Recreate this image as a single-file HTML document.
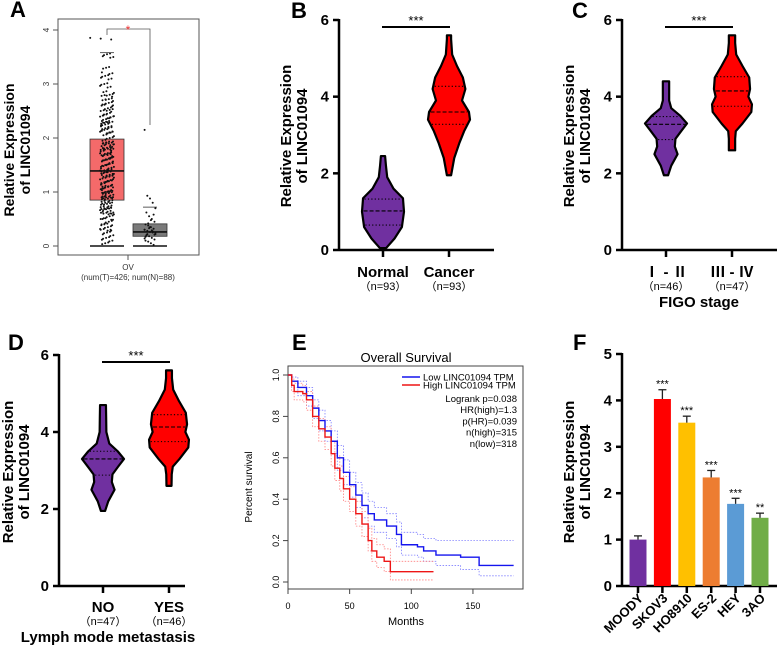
<!DOCTYPE html>
<html><head><meta charset="utf-8">
<style>
html,body{margin:0;padding:0;background:#fff;}
svg{display:block;font-family:"Liberation Sans","Noto Sans CJK SC",sans-serif;}
</style></head>
<body>
<svg id="fig" width="778" height="647" viewBox="0 0 778 647" xmlns="http://www.w3.org/2000/svg"></svg>
<script>
// ---------- DATA ----------
// Panel A (box + jitter)
const aGroups = ["Tumor","Normal"];
const aQ1 = [0.85, 0.18];
const aMed = [1.39, 0.26];
const aQ3 = [1.98, 0.41];
const aWhiskHi = [3.58, 0.72];
const aPointsT = [3.84,3.55,3.5,3.3,3.2,3.15,3.1,3.0,2.95,2.85,2.8,2.7,2.65,2.6,2.55,2.5,2.45,2.4,2.35,2.3,2.25,2.2,2.15,2.1,2.05,2.0,1.95,1.9,1.85,1.8,1.75,1.7,1.65,1.6,1.55,1.5,1.45,1.4,1.38,1.35,1.3,1.25,1.2,1.15,1.1,1.05,1.0,0.95,0.9,0.85,0.8,0.75,0.7,0.65,0.6,0.55,0.5,0.45,0.4,0.35,0.3,0.25,0.2,0.15,0.1,0.05,1.42,1.36,1.7,1.9,2.1,1.1,1.2,0.9,0.7,0.5,1.6,1.8,2.3,1.3,1.0,0.6,0.4,0.3,1.48,1.52,1.58,1.62,1.68,1.72,1.78,1.82,1.88,1.92,1.02,1.08,1.12,1.18,1.22,1.28,1.32,0.92,0.98,0.82,0.88,0.72,0.78,0.62,0.68,2.12,2.18,2.22,2.28,2.38,2.42,2.52,2.62,2.72,2.78];
const aPointsN = [2.15,0.93,0.88,0.8,0.7,0.62,0.55,0.5,0.45,0.4,0.38,0.35,0.32,0.3,0.28,0.26,0.25,0.22,0.2,0.18,0.15,0.12,0.1,0.08,0.05,0.02,0.3,0.22,0.35,0.27,0.24,0.19,0.33,0.29,0.21,0.17,0.42,0.48,0.58,0.14];
const aTicks = [0,1,2,3,4];

// Violins: [value, halfwidth-fraction]
const vNormal = [[0.05,0.15],[0.3,0.55],[0.6,0.9],[1.0,1.0],[1.35,0.95],[1.6,0.5],[1.9,0.2],[2.2,0.14],[2.45,0.1]];
const vCancer = [[1.95,0.1],[2.4,0.25],[2.8,0.5],[3.1,0.72],[3.4,1.0],[3.6,0.95],[3.9,0.62],[4.2,0.78],[4.5,0.66],[4.8,0.38],[5.1,0.15],[5.5,0.1],[5.6,0.1]];
const qNormal = [0.65,1.02,1.33];
const qCancer = [3.28,3.6,4.27];
const vStage12 = [[1.95,0.1],[2.2,0.25],[2.5,0.55],[2.7,0.42],[2.9,0.45],[3.1,0.72],[3.3,1.0],[3.5,0.68],[3.7,0.25],[3.9,0.15],[4.1,0.15],[4.4,0.15]];
const vStage34 = [[2.6,0.15],[2.9,0.15],[3.1,0.18],[3.3,0.5],[3.6,0.92],[3.8,0.95],[4.0,0.78],[4.2,0.86],[4.5,0.82],[4.8,0.5],[5.1,0.2],[5.4,0.15],[5.6,0.15]];
const qStage12 = [2.88,3.28,3.48];
const qStage34 = [3.75,4.15,4.52];
const vNo = [[1.95,0.1],[2.2,0.25],[2.5,0.55],[2.7,0.42],[2.9,0.45],[3.1,0.72],[3.3,1.0],[3.5,0.7],[3.7,0.3],[4.0,0.16],[4.4,0.15],[4.7,0.14]];
const vYes = [[2.6,0.12],[2.9,0.13],[3.1,0.18],[3.3,0.5],[3.6,0.92],[3.8,0.95],[4.0,0.78],[4.2,0.86],[4.5,0.8],[4.8,0.48],[5.1,0.2],[5.4,0.14],[5.6,0.14]];
const qNo = [2.88,3.3,3.5];
const qYes = [3.75,4.13,4.45];
const vTicks = [0,2,4,6];

// Panel E survival
const survLowT = [0,3,8,15,20,25,30,35,40,45,50,55,60,65,70,80,88,92,105,110,120,140,155,183];
const survLowS = [1,0.97,0.94,0.9,0.84,0.78,0.73,0.68,0.6,0.53,0.47,0.42,0.37,0.33,0.3,0.27,0.23,0.18,0.17,0.15,0.13,0.12,0.08,0.08];
const survHighT = [0,3,5,12,15,20,25,30,35,38,42,45,50,55,60,65,68,72,78,83,118];
const survHighS = [1,0.95,0.92,0.91,0.88,0.8,0.74,0.7,0.62,0.55,0.5,0.45,0.4,0.33,0.28,0.2,0.15,0.12,0.1,0.05,0.05];
const ciLowUpS = [1,0.99,0.97,0.94,0.88,0.83,0.78,0.73,0.66,0.59,0.53,0.48,0.43,0.39,0.36,0.33,0.29,0.24,0.23,0.21,0.2,0.2,0.2,0.2];
const ciLowDnS = [1,0.94,0.9,0.85,0.79,0.73,0.68,0.62,0.54,0.47,0.41,0.36,0.31,0.27,0.24,0.21,0.17,0.13,0.12,0.1,0.08,0.06,0.03,0.03];
const ciHighUpS = [1,0.98,0.96,0.95,0.92,0.85,0.79,0.75,0.68,0.61,0.56,0.51,0.46,0.39,0.34,0.26,0.21,0.18,0.16,0.1,0.1];
const ciHighDnS = [1,0.92,0.88,0.87,0.83,0.75,0.68,0.64,0.56,0.49,0.44,0.39,0.34,0.27,0.22,0.15,0.1,0.07,0.05,0.01,0.01];
const eXTicks = [0,50,100,150];
const eYTicks = [0,0.2,0.4,0.6,0.8,1.0];
const eLegend = ["Low LINC01094 TPM","High LINC01094 TPM"];
const eStats = ["Logrank p=0.038","HR(high)=1.3","p(HR)=0.039","n(high)=315","n(low)=318"];

// Panel F bars
const fCats = ["MOODY","SKOV3","HO8910","ES-2","HEY","3AO"];
const fVals = [1.0,4.03,3.52,2.34,1.77,1.47];
const fErr = [0.08,0.2,0.14,0.15,0.12,0.1];
const fSig = ["","***","***","***","***","**"];
const fTicks = [0,1,2,3,4,5];

// ---------- DRAW ----------
const svg = document.getElementById('fig');
const NS = 'http://www.w3.org/2000/svg';
function el(tag, attrs, parent, text){
  const e = document.createElementNS(NS, tag);
  for (const k in attrs) e.setAttribute(k, attrs[k]);
  if (text !== undefined) e.textContent = text;
  (parent || svg).appendChild(e);
  return e;
}
function grp(name){
  const g = el('g', {});
  
  
  return g;
}
function letter(g, t, x, y){
  const e = el('text', {x:x, y:y, 'font-size':22, 'font-weight':'bold'}, g, t);
  
  
}
function ytitle(g, x1, x2, yc, size, bold){
  const t1 = el('text', {x:0,y:0,'font-size':size,'font-weight':bold?'bold':'normal','text-anchor':'middle',transform:`translate(${x1},${yc}) rotate(-90)`}, g, 'Relative Expression');
  
  
  const t2 = el('text', {x:0,y:0,'font-size':size,'font-weight':bold?'bold':'normal','text-anchor':'middle',transform:`translate(${x2},${yc}) rotate(-90)`}, g, 'of LINC01094');
  
  
}

// ----- Panel A -----
(function(){
  const g = grp('panel-a');
  letter(g, 'A', 10, 17);
  const y = v => 246 - v * 54;
  const cx = [107, 150], hw = 17;
  el('rect', {x:58, y:19, width:141, height:236, fill:'none', stroke:'#555', 'stroke-width':1}, g);
  aTicks.forEach(t => {
    el('line', {x1:53, x2:58, y1:y(t), y2:y(t), stroke:'#555'}, g);
    el('text', {x:0, y:0, 'font-size':8, fill:'#333', 'text-anchor':'middle', transform:`translate(49,${y(t)}) rotate(-90)`}, g, t);
  });
  el('line', {x1:128, x2:128, y1:255, y2:260, stroke:'#555'}, g);
  el('text', {x:128, y:270, 'font-size':8, fill:'#333', 'text-anchor':'middle'}, g, 'OV');
  el('text', {x:128, y:280, 'font-size':8, fill:'#333', 'text-anchor':'middle'}, g, '(num(T)=426; num(N)=88)');
  const fills = ['#f46a6a','#7a7a7a'];
  aGroups.forEach((name, i) => {
    const b = el('rect', {x:cx[i]-hw, y:y(aQ3[i]), width:2*hw, height:y(aQ1[i])-y(aQ3[i]), fill:fills[i], stroke:'#333', 'stroke-width':0.8}, g);
    
    
  });
  // jitter offsets per copy (positions only)
  const copies = [-1, 0, 1];
  aPointsT.forEach((v, k) => {
    copies.forEach(c => {
      const off = (((k * 37 + c * 11) % 15) - 7) * 0.9 + c * 0.6;
      const p = el('circle', {cx:cx[0]+off, cy:y(v) + c * 0.8, r:1, fill:'#111'}, g);
      
      
    });
  });
  aPointsN.forEach((v, k) => {
    const off = ((k * 29) % 13) - 6;
    const p = el('circle', {cx:cx[1]+off*0.9, cy:y(v), r:1, fill:'#111'}, g);
    
    
  });
  aGroups.forEach((name, i) => {
    el('line', {x1:cx[i]-hw, x2:cx[i]+hw, y1:y(aMed[i]), y2:y(aMed[i]), stroke:'#111', 'stroke-width':1.6}, g);
    el('line', {x1:cx[i]-hw, x2:cx[i]+hw, y1:y(0), y2:y(0), stroke:'#111', 'stroke-width':1.6}, g);
    el('line', {x1:cx[i]-7, x2:cx[i]+7, y1:y(aWhiskHi[i]), y2:y(aWhiskHi[i]), stroke:'#333', 'stroke-width':0.8}, g);
  });
  el('path', {d:`M107 35 V29 H150 V125`, fill:'none', stroke:'#555', 'stroke-width':0.8}, g);
  el('text', {x:128, y:34, 'font-size':12, fill:'#e33', 'text-anchor':'middle'}, g, '*');
  ytitle(g, 14, 30, 150, 14, true);
})();

// ----- Violin panels -----
function violinPanel(opts){
  const g = grp(opts.name);
  letter(g, opts.letter, opts.lx, opts.ly);
  const y = v => opts.y0 - v * (opts.y0 - opts.y6) / 6;
  el('line', {x1:opts.ax, x2:opts.ax, y1:opts.y6-1, y2:opts.y0, stroke:'#000','stroke-width':2.5}, g);
  el('line', {x1:opts.ax, x2:opts.axEnd, y1:opts.y0, y2:opts.y0, stroke:'#000','stroke-width':2.5}, g);
  vTicks.forEach(t => {
    el('line', {x1:opts.ax-6, x2:opts.ax, y1:y(t), y2:y(t), stroke:'#000','stroke-width':2.5}, g);
    el('text', {x:opts.ax-10, y:y(t)+5, 'font-size':15,'font-weight':'bold','text-anchor':'end'}, g, t);
  });
  const colors = ['#7030a0','#ff0000'];
  opts.groups.forEach((grpD, i) => {
    const cx = opts.cx[i], W = 21;
    const prof = grpD.v;
    let d = '';
    prof.forEach((p, k) => { d += (k ? 'L' : 'M') + (cx + p[1]*W) + ' ' + y(p[0]) + ' '; });
    for (let k = prof.length - 1; k >= 0; k--) d += 'L' + (cx - prof[k][1]*W) + ' ' + y(prof[k][0]) + ' ';
    d += 'Z';
    const v = el('path', {d:d, fill:colors[i], stroke:'#000', 'stroke-width':2.2, 'stroke-linejoin':'round'}, g);
    
    
    const widthAt = val => {
      for (let k = 1; k < prof.length; k++) {
        if (val <= prof[k][0]) {
          const f = (val - prof[k-1][0]) / (prof[k][0] - prof[k-1][0]);
          return (prof[k-1][1] + f * (prof[k][1] - prof[k-1][1])) * W;
        }
      }
      return 0;
    };
    grpD.q.forEach((qv, j) => {
      const w = widthAt(qv) - 1.5;
      el('line', {x1:cx-w, x2:cx+w, y1:y(qv), y2:y(qv), stroke:'#000', 'stroke-width':1.1, 'stroke-dasharray': j === 1 ? '4,2' : '1.2,2.2'}, g);
    });
    el('line', {x1:cx, x2:cx, y1:opts.y0, y2:opts.y0+7, stroke:'#000','stroke-width':2.5}, g);
    el('text', {x:cx, y:opts.labY, 'font-size':15,'font-weight':'bold','text-anchor':'middle'}, g, grpD.label);
    el('text', {x:cx, y:opts.labY+13, 'font-size':11,'text-anchor':'middle'}, g, grpD.n);
  });
  el('line', {x1:opts.cx[0]-1, x2:opts.cx[1]+1, y1:opts.y6+7, y2:opts.y6+7, stroke:'#000','stroke-width':2}, g);
  el('text', {x:(opts.cx[0]+opts.cx[1])/2, y:opts.y6+5, 'font-size':13,'text-anchor':'middle'}, g, '***');
  if (opts.xtitle) {
    const t = el('text', {x:opts.xtx, y:opts.labY+30, 'font-size':15,'font-weight':'bold','text-anchor':'middle'}, g, opts.xtitle);
    
    
  }
  ytitle(g, opts.ytx1, opts.ytx2, opts.ytY, 15, true);
}
violinPanel({name:'panel-b', letter:'B', lx:291, ly:18, ax:339, axEnd:494, y6:20, y0:250,
  cx:[383,449], labY:277, ytx1:291, ytx2:307, ytY:136,
  groups:[{label:'Normal', n:'（n=93）', v:vNormal, q:qNormal},{label:'Cancer', n:'（n=93）', v:vCancer, q:qCancer}]});
violinPanel({name:'panel-c', letter:'C', lx:572, ly:18, ax:622, axEnd:777, y6:20, y0:250,
  cx:[666,732], labY:277, ytx1:574, ytx2:590, ytY:136, xtitle:'FIGO stage', xtx:699,
  groups:[{label:'Ⅰ - Ⅱ', n:'（n=46）', v:vStage12, q:qStage12},{label:'Ⅲ - Ⅳ', n:'（n=47）', v:vStage34, q:qStage34}]});
violinPanel({name:'panel-d', letter:'D', lx:8, ly:350, ax:59, axEnd:185, y6:355, y0:586,
  cx:[103,169], labY:612, ytx1:13, ytx2:29, ytY:472, xtitle:'Lymph mode metastasis', xtx:108,
  groups:[{label:'NO', n:'（n=47）', v:vNo, q:qNo},{label:'YES', n:'（n=46）', v:vYes, q:qYes}]});

// ----- Panel E -----
(function(){
  const g = grp('panel-e');
  letter(g, 'E', 292, 350);
  const x = m => 288 + m * 1.233;
  const y = s => 582 - s * 207;
  el('rect', {x:288, y:366, width:235, height:223, fill:'none', stroke:'#444', 'stroke-width':1}, g);
  el('text', {x:406, y:362, 'font-size':13, 'text-anchor':'middle'}, g, 'Overall Survival');
  eXTicks.forEach(t => {
    el('line', {x1:x(t), x2:x(t), y1:589, y2:594, stroke:'#444'}, g);
    el('text', {x:x(t), y:609, 'font-size':9, 'text-anchor':'middle'}, g, t);
  });
  eYTicks.forEach(t => {
    el('line', {x1:283, x2:288, y1:y(t), y2:y(t), stroke:'#444'}, g);
    el('text', {x:0, y:0, 'font-size':9, 'text-anchor':'middle', transform:`translate(279,${y(t)}) rotate(-90)`}, g, t.toFixed(1));
  });
  el('text', {x:406, y:625, 'font-size':11, 'text-anchor':'middle'}, g, 'Months');
  el('text', {x:0, y:0, 'font-size':10, 'text-anchor':'middle', transform:`translate(252,487) rotate(-90)`}, g, 'Percent survival');
  const step = (T, S) => {
    let d = `M${x(T[0])} ${y(S[0])}`;
    for (let k = 1; k < T.length; k++) d += ` H${x(T[k])} V${y(S[k])}`;
    return d;
  };
  el('path', {d:step(survLowT, ciLowUpS), fill:'none', stroke:'#8080ff', 'stroke-width':0.8, 'stroke-dasharray':'1.5,1.5'}, g);
  el('path', {d:step(survLowT, ciLowDnS), fill:'none', stroke:'#8080ff', 'stroke-width':0.8, 'stroke-dasharray':'1.5,1.5'}, g);
  el('path', {d:step(survHighT, ciHighUpS), fill:'none', stroke:'#ff8080', 'stroke-width':0.8, 'stroke-dasharray':'1.5,1.5'}, g);
  el('path', {d:step(survHighT, ciHighDnS), fill:'none', stroke:'#ff8080', 'stroke-width':0.8, 'stroke-dasharray':'1.5,1.5'}, g);
  const lo = el('path', {d:step(survLowT, survLowS), fill:'none', stroke:'#1515ee', 'stroke-width':1.4}, g);
  
  
  const hi = el('path', {d:step(survHighT, survHighS), fill:'none', stroke:'#ee1515', 'stroke-width':1.4}, g);
  
  
  const cols = ['#1515ee','#ee1515'];
  eLegend.forEach((t, i) => {
    const ly = 377 + i * 8;
    el('line', {x1:402, x2:420, y1:ly, y2:ly, stroke:cols[i], 'stroke-width':1.5}, g);
    const lt = el('text', {x:423, y:ly+3.5, 'font-size':9.5}, g, t);
    
    
  });
  eStats.forEach((t, i) => {
    el('text', {x:517, y:402 + i * 11.2, 'font-size':9.5, 'text-anchor':'end'}, g, t);
  });
})();

// ----- Panel F -----
(function(){
  const g = grp('panel-f');
  letter(g, 'F', 573, 350);
  const y = v => 586 - v * 46.4;
  const ax = 622;
  el('line', {x1:ax, x2:ax, y1:y(5)-1, y2:586, stroke:'#000','stroke-width':2.5}, g);
  el('line', {x1:ax, x2:777, y1:586, y2:586, stroke:'#000','stroke-width':2.5}, g);
  fTicks.forEach(t => {
    el('line', {x1:ax-6, x2:ax, y1:y(t), y2:y(t), stroke:'#000','stroke-width':2.5}, g);
    el('text', {x:ax-10, y:y(t)+5, 'font-size':15,'font-weight':'bold','text-anchor':'end'}, g, t);
  });
  const cols = ['#7030a0','#ff0000','#ffc000','#ed7d31','#5b9bd5','#70ad47'];
  fCats.forEach((c, i) => {
    const cx = 638 + i * 24.4, w = 17;
    const b = el('rect', {x:cx-w/2, y:y(fVals[i]), width:w, height:586-y(fVals[i]), fill:cols[i]}, g);
    
    
    const top = y(fVals[i] + fErr[i]);
    el('line', {x1:cx, x2:cx, y1:y(fVals[i]), y2:top, stroke:'#222','stroke-width':1.3}, g);
    el('line', {x1:cx-4, x2:cx+4, y1:top, y2:top, stroke:'#222','stroke-width':1.3}, g);
    if (fSig[i]) el('text', {x:cx, y:top-2, 'font-size':11,'text-anchor':'middle'}, g, fSig[i]);
    el('line', {x1:cx, x2:cx, y1:586, y2:593, stroke:'#000','stroke-width':2.5}, g);
    el('text', {x:0, y:0, 'font-size':13,'font-weight':'bold','text-anchor':'end', transform:`translate(${cx+6},${599}) rotate(-45)`}, g, c);
  });
  ytitle(g, 574, 590, 472, 15, true);
})();
</script>
</body></html>
